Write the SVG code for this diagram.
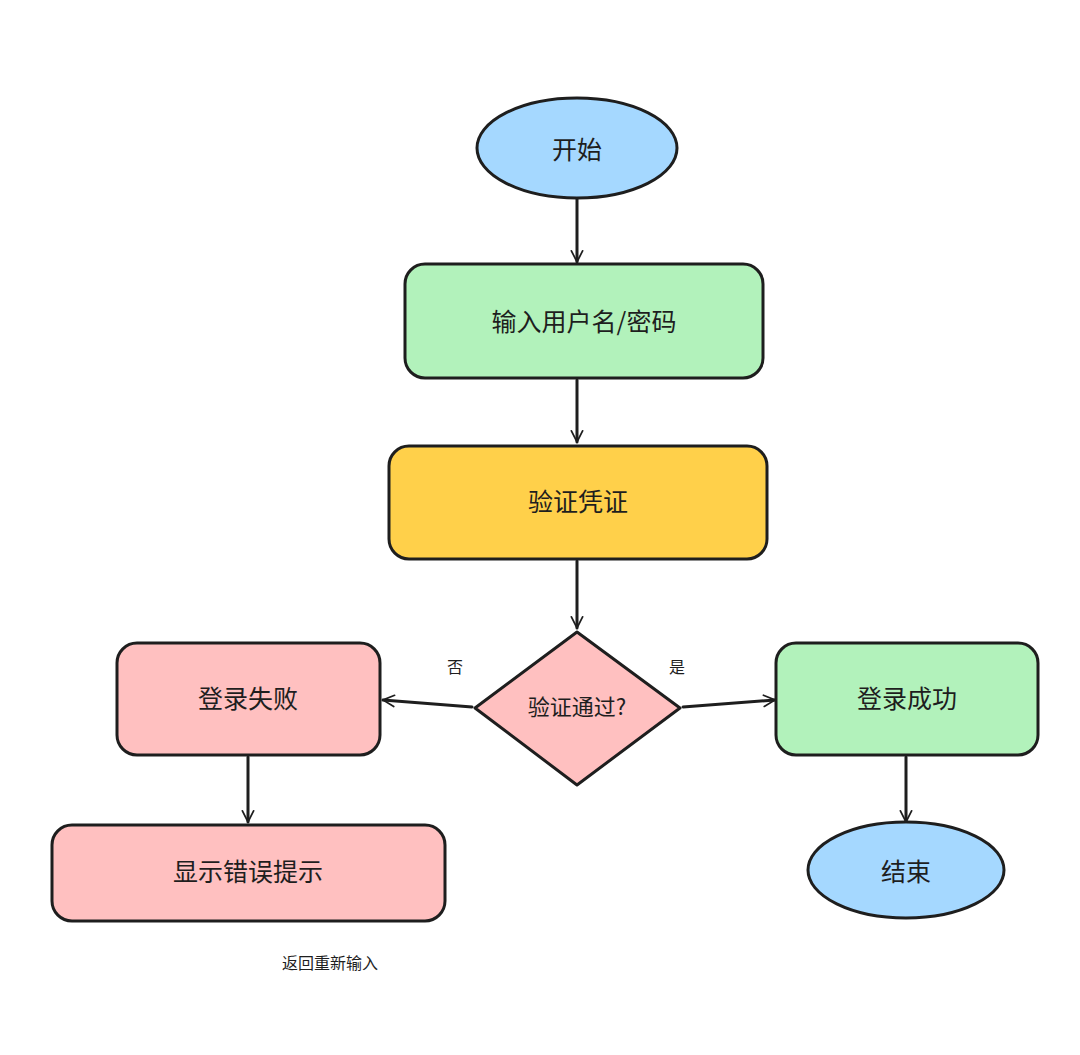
<svg xmlns="http://www.w3.org/2000/svg" width="1080" height="1055" viewBox="0 0 1080 1055">
<style>
.n{stroke:#1e1e1e;stroke-width:3;stroke-linejoin:round}
.t{font-family:"Noto Sans CJK SC",sans-serif;font-size:25px;fill:#1e1e1e;text-anchor:middle;dominant-baseline:central}
.s{font-family:"Noto Sans CJK SC",sans-serif;font-size:16px;fill:#1e1e1e;text-anchor:middle;dominant-baseline:central}
.c{stroke:#1e1e1e;stroke-width:3;fill:none;stroke-linecap:round;marker-end:url(#a)}
</style>
<defs><marker id="a" viewBox="0 0 20 20" refX="18" refY="10" markerWidth="14" markerHeight="14" markerUnits="userSpaceOnUse" orient="auto"><path d="M2,2 L18,10 L2,18" fill="none" stroke="#1e1e1e" stroke-width="2.5" stroke-linecap="round"/></marker></defs>
<rect width="1080" height="1055" fill="#fff"/>
<g id="connectors">
<line class="c" x1="577" y1="198" x2="577" y2="262"/>
<line class="c" x1="577" y1="380" x2="577" y2="442"/>
<line class="c" x1="577" y1="561" x2="577" y2="628"/>
<line class="c" x1="472" y1="707" x2="383" y2="700"/>
<line class="c" x1="683" y1="707" x2="775" y2="700"/>
<line class="c" x1="248" y1="757" x2="248" y2="822"/>
<line class="c" x1="906" y1="757" x2="906" y2="822"/>
<text class="s" x="455" y="666">否</text>
<text class="s" x="677" y="666">是</text>
<text class="s" x="330" y="962">返回重新输入</text>
</g>
<g id="start"><ellipse class="n" cx="577" cy="148" rx="100" ry="50" fill="#a5d8ff"/><text class="t" x="577" y="148">开始</text></g>
<g id="input"><rect class="n" x="405" y="264" width="358" height="114" rx="20" fill="#b2f2bb"/><text class="t" x="584" y="320">输入用户名/密码</text></g>
<g id="verify"><rect class="n" x="389" y="446" width="378" height="113" rx="20" fill="#ffd04a"/><text class="t" x="578" y="500">验证凭证</text></g>
<g id="decision"><path class="n" d="M577,632 L680,708 L577,785 L475,708 Z" fill="#ffc0c0"/><text class="t" x="577" y="705" style="font-size:22px">验证通过?</text></g>
<g id="fail"><rect class="n" x="117" y="643" width="263" height="112" rx="20" fill="#ffc0c0"/><text class="t" x="248" y="697">登录失败</text></g>
<g id="success"><rect class="n" x="776" y="643" width="262" height="112" rx="20" fill="#b2f2bb"/><text class="t" x="907" y="697">登录成功</text></g>
<g id="error"><rect class="n" x="52" y="825" width="393" height="96" rx="20" fill="#ffc0c0"/><text class="t" x="248" y="870">显示错误提示</text></g>
<g id="end"><ellipse class="n" cx="906" cy="870" rx="98" ry="48" fill="#a5d8ff"/><text class="t" x="906" y="870">结束</text></g>
</svg>
